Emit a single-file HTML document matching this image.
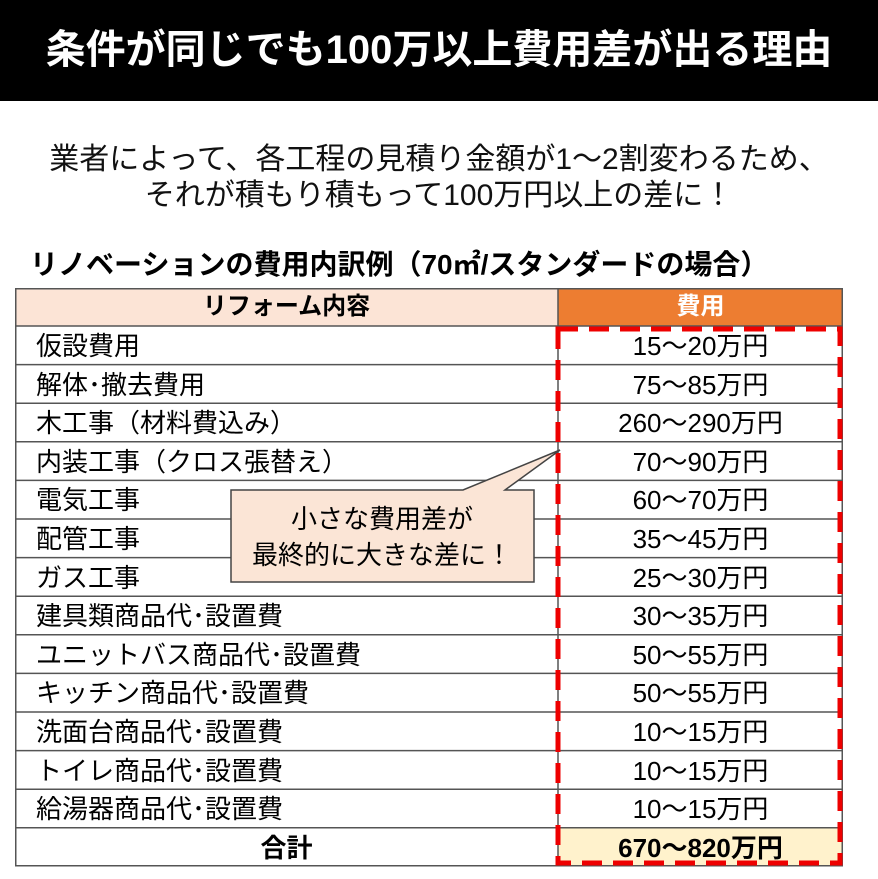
<!DOCTYPE html>
<html><head><meta charset="utf-8"><style>
body{margin:0;width:878px;height:879px;background:#fff;font-family:"Liberation Sans","Noto Sans CJK JP",sans-serif;position:relative;overflow:hidden}
.bar{position:absolute;left:0;top:0;width:878px;height:101px;background:#000;color:#fff;font-weight:bold;font-size:40px;text-align:center;line-height:101px}
.sub{position:absolute;left:0;width:878px;text-align:center;font-size:30px;color:#111}
.h{position:absolute;left:30px;top:243px;font-size:28px;font-weight:bold;color:#000}
.row{position:absolute;left:15px;width:828px;height:38.6px;font-size:26px;line-height:40px}
.l{position:absolute;left:0;top:0;width:543px;height:100%;padding-left:21px;box-sizing:border-box}
.r{position:absolute;left:543px;top:0;width:285px;height:100%;text-align:center}
.grid{position:absolute;left:15px;top:288px;width:828px;height:578px;border:1.5px solid #555;box-sizing:border-box}
</style></head><body>
<div class="bar">条件が同じでも100万以上費用差が出る理由</div>
<div class="sub" style="top:134px">業者によって、各工程の見積り金額が1～2割変わるため、</div>
<div class="sub" style="top:170px">それが積もり積もって100万円以上の差に！</div>
<div class="h">リノベーションの費用内訳例（70㎡/スタンダードの場合）</div>
<div class="row" style="top:288px;height:38px;line-height:38px;font-weight:bold;font-size:24px"><div class="l" style="background:#fce4d6;text-align:center;padding:0">リフォーム内容</div><div class="r" style="background:#ed7d31;color:#fff">費用</div></div>
<div class="row" style="top:326px"><div class="l">仮設費用</div><div class="r">15～20万円</div></div>
<div class="row" style="top:364.6px"><div class="l">解体･撤去費用</div><div class="r">75～85万円</div></div>
<div class="row" style="top:403.2px"><div class="l">木工事（材料費込み）</div><div class="r">260～290万円</div></div>
<div class="row" style="top:441.8px"><div class="l">内装工事（クロス張替え）</div><div class="r">70～90万円</div></div>
<div class="row" style="top:480.4px"><div class="l">電気工事</div><div class="r">60～70万円</div></div>
<div class="row" style="top:519px"><div class="l">配管工事</div><div class="r">35～45万円</div></div>
<div class="row" style="top:557.6px"><div class="l">ガス工事</div><div class="r">25～30万円</div></div>
<div class="row" style="top:596.2px"><div class="l">建具類商品代･設置費</div><div class="r">30～35万円</div></div>
<div class="row" style="top:634.8px"><div class="l">ユニットバス商品代･設置費</div><div class="r">50～55万円</div></div>
<div class="row" style="top:673.4px"><div class="l">キッチン商品代･設置費</div><div class="r">50～55万円</div></div>
<div class="row" style="top:712px"><div class="l">洗面台商品代･設置費</div><div class="r">10～15万円</div></div>
<div class="row" style="top:750.6px"><div class="l">トイレ商品代･設置費</div><div class="r">10～15万円</div></div>
<div class="row" style="top:789.2px"><div class="l">給湯器商品代･設置費</div><div class="r">10～15万円</div></div>
<div class="row" style="top:827.8px;font-weight:bold"><div class="l" style="text-align:center;padding:0">合計</div><div class="r" style="background:#fff2cc">670～820万円</div></div>
<svg width="878" height="879" style="position:absolute;left:0;top:0">
<g stroke="#555" stroke-width="1.5">
<rect x="15.75" y="288.75" width="826.5" height="577" fill="none"/>
<line x1="558" y1="288" x2="558" y2="866"/>
<line x1="15" y1="326" x2="843" y2="326"/><line x1="15" y1="364.6" x2="843" y2="364.6"/><line x1="15" y1="403.2" x2="843" y2="403.2"/><line x1="15" y1="441.8" x2="843" y2="441.8"/><line x1="15" y1="480.4" x2="843" y2="480.4"/><line x1="15" y1="519" x2="843" y2="519"/><line x1="15" y1="557.6" x2="843" y2="557.6"/><line x1="15" y1="596.2" x2="843" y2="596.2"/><line x1="15" y1="634.8" x2="843" y2="634.8"/><line x1="15" y1="673.4" x2="843" y2="673.4"/><line x1="15" y1="712" x2="843" y2="712"/><line x1="15" y1="750.6" x2="843" y2="750.6"/><line x1="15" y1="789.2" x2="843" y2="789.2"/><line x1="15" y1="827.8" x2="843" y2="827.8"/>
</g>
<rect x="558" y="329" width="282" height="534" fill="none" stroke="#e00" stroke-width="5" stroke-dasharray="20 11"/>
<path d="M231,490 H463 L560,450 L505,490 H534 V582 H231 Z" fill="#fbe5d6" stroke="#444" stroke-width="1.5"/>
<text x="382" y="528" font-size="26" text-anchor="middle" font-family="Liberation Sans, Noto Sans CJK JP, sans-serif">小さな費用差が</text>
<text x="382" y="564" font-size="26" text-anchor="middle" font-family="Liberation Sans, Noto Sans CJK JP, sans-serif">最終的に大きな差に！</text>
</svg>
</body></html>
